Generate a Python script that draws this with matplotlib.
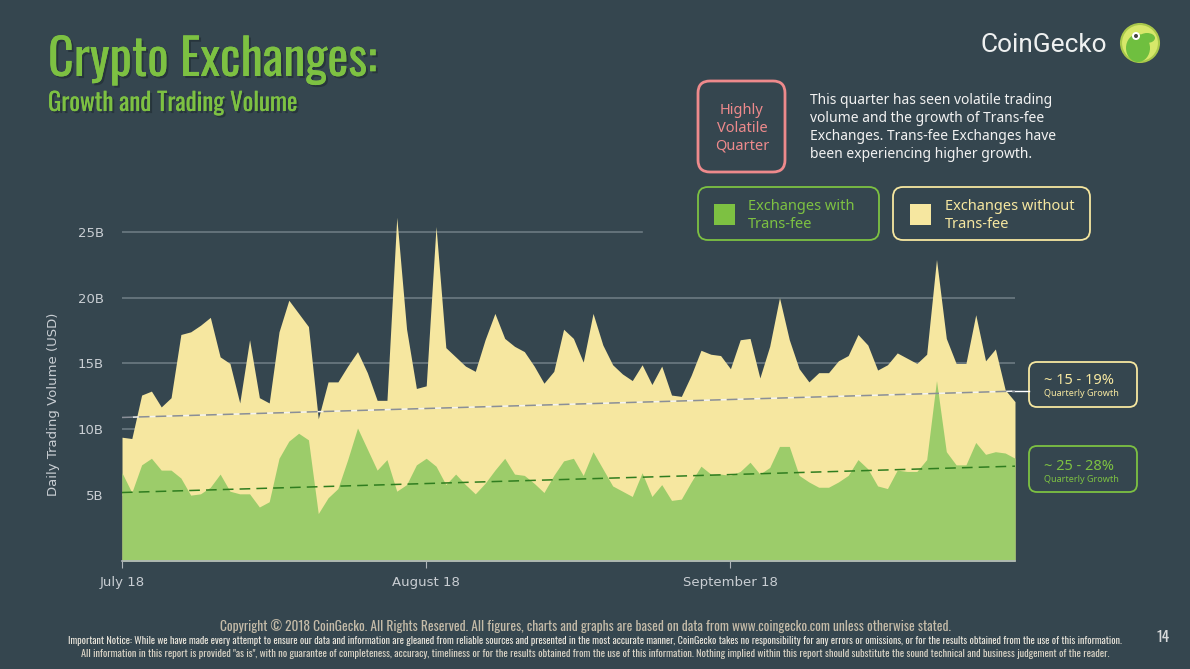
import numpy as np
import matplotlib
matplotlib.use("Agg")
import matplotlib.pyplot as plt
from matplotlib import font_manager
from matplotlib.patches import FancyBboxPatch, Circle, Ellipse, Rectangle
import matplotlib.patheffects as pe

# daily trading volume, billions USD, 18 Jul 2018 - 17 Oct 2018
dates = np.arange('2018-07-18', '2018-10-18', dtype='datetime64[D]')

total_vol = [9.4, 9.3, 12.6, 12.9, 11.7, 12.4, 17.2, 17.4, 17.9, 18.5,
             15.5, 15.0, 12.0, 16.8, 12.4, 12.0, 17.4, 19.8, 18.8, 17.8,
             10.8, 13.6, 13.6, 14.8, 15.9, 14.3, 12.2, 12.2, 26.1, 17.6,
             13.1, 13.3, 25.4, 16.2, 15.5, 14.8, 14.4, 16.8, 18.8, 16.9,
             16.3, 15.9, 14.8, 13.5, 14.4, 17.6, 16.9, 15.1, 18.8, 16.4,
             14.9, 14.2, 13.7, 14.9, 13.4, 14.8, 12.6, 12.5, 14.1, 16.0,
             15.7, 15.6, 14.6, 16.8, 16.9, 13.9, 16.3, 20.0, 16.8, 14.6,
             13.6, 14.3, 14.3, 15.2, 15.6, 17.2, 16.4, 14.5, 14.9, 15.8,
             15.4, 15.0, 15.7, 22.9, 16.9, 15.0, 15.0, 18.7, 15.2, 16.1,
             13.0, 12.1]

transfee_vol = [6.7, 5.2, 7.3, 7.8, 6.9, 6.9, 6.3, 5.0, 5.1, 5.6,
                6.6, 5.3, 5.1, 5.1, 4.1, 4.5, 7.8, 9.1, 9.7, 9.2,
                3.6, 4.8, 5.5, 7.7, 10.1, 8.5, 6.9, 7.7, 5.3, 5.8,
                7.3, 7.8, 7.2, 5.8, 6.6, 5.8, 5.1, 5.9, 6.9, 7.8,
                6.6, 6.5, 5.9, 5.2, 6.5, 7.6, 7.8, 6.5, 8.3, 7.0,
                5.7, 5.3, 4.9, 6.7, 4.9, 5.8, 4.6, 4.7, 6.0, 7.2,
                6.6, 6.6, 6.5, 6.8, 7.5, 6.6, 7.1, 8.7, 8.7, 6.5,
                6.0, 5.6, 5.6, 6.0, 6.5, 7.7, 7.0, 5.7, 5.5, 6.9,
                6.8, 6.8, 7.7, 13.7, 8.3, 7.3, 7.3, 9.0, 8.1, 8.3,
                8.2, 7.8]

trend_total = [10.9, 12.9]
trend_transfee = [5.2, 7.2]

yticks = [5, 10, 15, 20, 25]
ytick_labels = ['5B', '10B', '15B', '20B', '25B']
xtick_dates = np.array(['2018-07-18', '2018-08-18', '2018-09-18'], dtype='datetime64[D]')
xtick_labels = ['July 18', 'August 18', 'September 18']

BG = '#35464f'
GREEN = '#7dc142'
GREEN_AREA = '#9ccc6a'
YELLOW = '#f6e7a0'
PINK = '#ee8a8c'
GRID = '#6c7a82'
TXT = '#c9ced3'

W, H = 1190, 669
fig = plt.figure(figsize=(W / 100, H / 100), dpi=100, facecolor=BG)
renderer = fig.canvas.get_renderer()

# overlay in pixel coords for slide furniture
ov = fig.add_axes([0, 0, 1, 1], zorder=0)
ov.set_xlim(0, W)
ov.set_ylim(H, 0)
ov.axis('off')

# pick a narrow family if one is around
installed = {f.name for f in font_manager.fontManager.ttflist}
narrow_font = None
for cand in ['Oswald', 'Roboto Condensed', 'Liberation Sans Narrow', 'Open Sans Condensed',
             'Noto Sans Condensed', 'DejaVu Sans Condensed']:
    if cand in installed:
        narrow_font = cand
        break
has_dv_cond = any(f.name == 'DejaVu Sans' and f.stretch == 'condensed'
                  for f in font_manager.fontManager.ttflist)
if narrow_font:
    narrow = dict(family=[narrow_font, 'DejaVu Sans'])
elif has_dv_cond:
    narrow = dict(family=['DejaVu Sans'], fontstretch='condensed')
else:
    narrow = dict(family=['Roboto', 'DejaVu Sans'])
ui = ['Noto Sans', 'DejaVu Sans']


def fit(t, width):
    # shrink a text until it spans the wanted pixel width
    for _ in range(3):
        w = t.get_window_extent(renderer).width
        if w > 0:
            t.set_fontsize(t.get_fontsize() * width / w)
    return t


shadow = [pe.withSimplePatchShadow(offset=(1.5, -1.5), shadow_rgbFace='#1e2a30', alpha=0.6), pe.Normal()]
fit(ov.text(48, 76, 'Crypto Exchanges:', fontsize=35, color=GREEN, fontweight='bold',
            va='baseline', path_effects=shadow, **narrow), 329)
fit(ov.text(48, 111, 'Growth and Trading Volume', fontsize=18, color=GREEN, fontweight='bold',
            va='baseline', path_effects=shadow, **narrow), 250)

# logo
fit(ov.text(980, 45, 'CoinGecko', family=['Roboto', 'DejaVu Sans'], fontsize=18,
            color='#eef0f0', va='center'), 127)
ov.add_patch(Circle((1140, 43), 19, facecolor='#d7e86a', edgecolor='#a9c84a', lw=1.5))
ov.add_patch(Ellipse((1138, 48), 24, 28, facecolor='#6fbf3f', edgecolor='none'))
ov.add_patch(Ellipse((1147, 38), 16, 10, facecolor='#6fbf3f', edgecolor='none'))
ov.add_patch(Circle((1136, 36), 4, facecolor='white', edgecolor='none'))
ov.add_patch(Circle((1136, 36), 2, facecolor='#444444', edgecolor='none'))


def rbox(x0, y0, x1, y1, color, r=10, lw=1.3):
    ov.add_patch(FancyBboxPatch((x0, y0), x1 - x0, y1 - y0,
                                boxstyle='round,pad=0,rounding_size=%d' % r,
                                facecolor=BG, edgecolor=color, lw=lw))


rbox(698, 81, 785, 172, PINK, r=12, lw=2)
for i, s in enumerate(['Highly', 'Volatile', 'Quarter']):
    ov.text(742, 110 + i * 18, s, family=ui, fontsize=10.5, color=PINK,
            fontweight='medium', ha='center', va='center')

note = ['This quarter has seen volatile trading',
        'volume and the growth of Trans-fee',
        'Exchanges. Trans-fee Exchanges have',
        'been experiencing higher growth.']
for i, s in enumerate(note):
    ov.text(810, 101 + i * 18, s, family=ui, fontsize=10, color='#f2f2f2',
            fontweight='medium', va='center')

rbox(698, 187, 879, 240, GREEN)
ov.add_patch(Rectangle((714, 204), 21, 21, facecolor=GREEN, edgecolor='none'))
ov.text(748, 207, 'Exchanges with', family=ui, fontsize=10.5, color=GREEN, va='center')
ov.text(748, 225, 'Trans-fee', family=ui, fontsize=10.5, color=GREEN, va='center')

rbox(893, 187, 1090, 240, YELLOW)
ov.add_patch(Rectangle((910, 204), 21, 21, facecolor=YELLOW, edgecolor='none'))
ov.text(945, 207, 'Exchanges without', family=ui, fontsize=10.5, color=YELLOW, va='center')
ov.text(945, 225, 'Trans-fee', family=ui, fontsize=10.5, color=YELLOW, va='center')

rbox(1029, 362, 1137, 407, YELLOW, r=8)
ov.text(1044, 381, '~ 15 - 19%', family=ui, fontsize=10.5, color=YELLOW,
        fontweight='bold', va='center')
ov.text(1044, 394, 'Quarterly Growth', family=ui, fontsize=6.5, color=YELLOW, va='center')

rbox(1029, 446, 1137, 492, GREEN, r=8)
ov.text(1044, 466, '~ 25 - 28%', family=ui, fontsize=10.5, color=GREEN,
        fontweight='bold', va='center')
ov.text(1044, 480, 'Quarterly Growth', family=ui, fontsize=6.5, color=GREEN, va='center')

ov.plot([1012, 1029], [391, 391], color='white', lw=1)

# footer
fit(ov.text(585, 626, 'Copyright \u00a9 2018 CoinGecko. All Rights Reserved. All figures, charts and graphs '
            'are based on data from www.coingecko.com unless otherwise stated.',
            fontsize=8.5, color='#c4bba8', ha='center', va='center', **narrow), 730)
fit(ov.text(595, 641, 'Important Notice: While we have made every attempt to ensure our data and information '
            'are gleaned from reliable sources and presented in the most accurate manner, CoinGecko takes no '
            'responsibility for any errors or omissions, or for the results obtained from the use of this information.',
            fontsize=5.6, color='#e8e4da', fontweight='bold', ha='center', va='center', **narrow), 1066)
fit(ov.text(595, 654, 'All information in this report is provided "as is", with no guarantee of completeness, '
            'accuracy, timeliness or for the results obtained from the use of this information. Nothing implied '
            'within this report should substitute the sound technical and business judgement of the reader.',
            fontsize=5.6, color='#d8d2c4', ha='center', va='center', **narrow), 1016)
ov.text(1163, 638, '14', fontsize=11, color='#d8dadb', ha='center', va='center', **narrow)

# chart
ax = fig.add_axes([122 / W, (H - 561) / H, (1015 - 122) / W, (561 - 212) / H], zorder=1)
ax.set_facecolor('none')
ax.set_xlim(dates[0], dates[-1])
ax.set_ylim(0, 26.5)

for yv in yticks[:-1]:
    ax.axhline(yv, color=GRID, lw=1.2, zorder=0)
ax.plot([dates[0], dates[53]], [25, 25], color=GRID, lw=1.2, zorder=0)

ax.fill_between(dates, 0, total_vol, color=YELLOW, lw=0, zorder=1)
ax.fill_between(dates, 0, transfee_vol, color=GREEN_AREA, lw=0, zorder=2)

ends = [dates[0], dates[-1]]
ax.plot(ends, trend_total, color='#8a8f98', lw=1.1, linestyle=(0, (7, 4)),
        gapcolor='#f4f4f4', zorder=3)
ax.plot(ends, trend_transfee, color='#2f7d1f', lw=1.1, linestyle=(0, (7, 4)), zorder=3)

ax.set_yticks(yticks)
ax.set_yticklabels(ytick_labels)
ax.set_xticks(xtick_dates)
ax.set_xticklabels(xtick_labels)
ax.tick_params(axis='y', length=0, pad=13, labelcolor=TXT, labelsize=9.5)
ax.tick_params(axis='x', length=5, color='#b0b6bb', pad=6, labelcolor=TXT, labelsize=9.5)
for s in ['top', 'right', 'left']:
    ax.spines[s].set_visible(False)
ax.spines['bottom'].set_color('#b0b6bb')
ax.spines['bottom'].set_linewidth(1.2)
ax.spines['bottom'].set_zorder(4)

ax.set_ylabel('Daily Trading Volume (USD)', color=TXT, fontsize=9.5)
ax.yaxis.set_label_coords(-0.069, 0.45)

fig.savefig('out.png', dpi=100, facecolor=BG)
